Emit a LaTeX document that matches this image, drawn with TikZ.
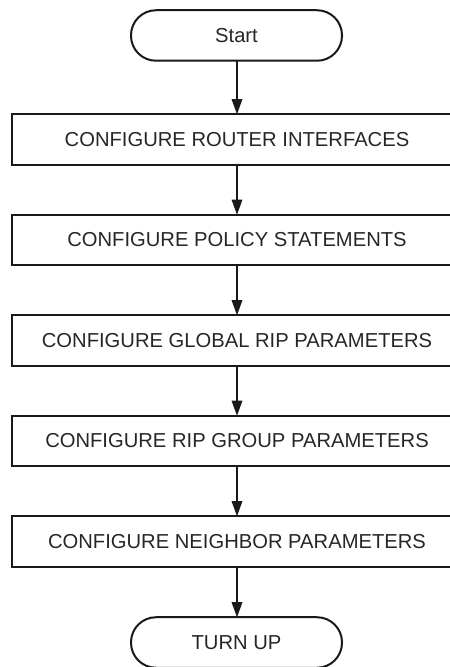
\documentclass[tikz,border=0pt]{standalone}
\usepackage{fontspec}
\setmainfont{Liberation Sans}
\usetikzlibrary{arrows.meta}
\begin{document}
\begin{tikzpicture}[x=1pt,y=1pt,
  stepbox/.style={draw=black!90,line width=2pt,minimum width=450pt,minimum height=50.5pt,inner sep=0pt,outer sep=0pt,font=\fontsize{20.2}{23}\selectfont,text=black!85},
  term/.style={draw=black!90,line width=2pt,rounded corners=25pt,minimum width=211pt,minimum height=50.5pt,inner sep=0pt,outer sep=0pt,font=\fontsize{20.2}{23}\selectfont,text=black!85},
  flow/.style={line width=1.4pt,draw=black!90,-{Triangle[length=15pt,width=10.5pt]}}]
\useasboundingbox (0,0) rectangle (450,667);
\clip (0,0) rectangle (450,667);
\node[term] (start) at (236.5,631.5) {Start};
\node[stepbox] (b1) at (237,527.5) {CONFIGURE ROUTER INTERFACES};
\node[stepbox] (b2) at (237,427) {CONFIGURE POLICY STATEMENTS};
\node[stepbox] (b3) at (237,326.5) {CONFIGURE GLOBAL RIP PARAMETERS};
\node[stepbox] (b4) at (237,226) {CONFIGURE RIP GROUP PARAMETERS};
\node[stepbox] (b5) at (237,125.5) {CONFIGURE NEIGHBOR PARAMETERS};
\node[term] (turn) at (236.5,24.5) {TURN UP};
\draw[flow] (start.south -| b1.north) -- (b1.north);
\draw[flow] (b1.south) -- (b2.north);
\draw[flow] (b2.south) -- (b3.north);
\draw[flow] (b3.south) -- (b4.north);
\draw[flow] (b4.south) -- (b5.north);
\draw[flow] (b5.south) -- (b5.south |- turn.north);
\end{tikzpicture}
\end{document}
